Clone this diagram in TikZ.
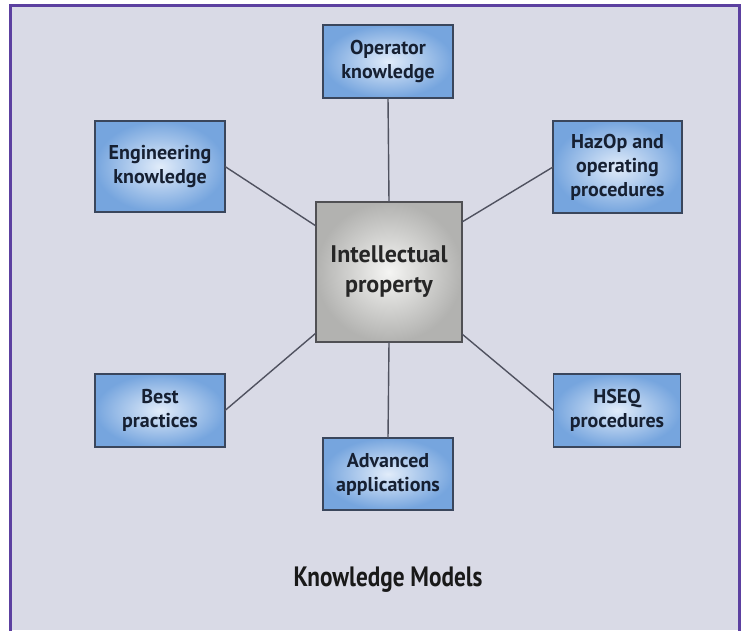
\documentclass[tikz,border=0pt]{standalone}
\usepackage{fontspec}
\setmainfont{PT Sans}
\usetikzlibrary{calc}
\definecolor{bgcol}{RGB}{217,218,230}
\definecolor{framecol}{RGB}{92,64,160}
\definecolor{boxouter}{RGB}{118,165,222}
\definecolor{boxinner}{RGB}{225,236,250}
\definecolor{boxline}{RGB}{58,70,92}
\definecolor{ipouter}{RGB}{178,178,176}
\definecolor{ipinner}{RGB}{245,245,243}
\definecolor{ipline}{RGB}{80,80,84}
\definecolor{txtcol}{RGB}{22,32,50}
\definecolor{linkcol}{RGB}{80,82,96}
\tikzset{
  kbox/.style={draw=boxline, line width=1.8pt, shading=radial, inner color=boxinner, outer color=boxouter,
    align=center, text=txtcol, font=\fontsize{20}{24}\selectfont\bfseries, inner sep=0pt, outer sep=0pt},
  ipbox/.style={draw=ipline, line width=1.8pt, shading=radial, inner color=ipinner, outer color=ipouter,
    align=center, text=black!85, font=\fontsize{24}{30}\selectfont\bfseries, inner sep=0pt, outer sep=0pt,
    minimum width=146pt, minimum height=140pt},
  link/.style={draw=linkcol, line width=1.4pt}
}
\begin{document}
\begin{tikzpicture}[x=1pt,y=-1pt]
\useasboundingbox (0,0) rectangle (751,630);
\fill[white] (0,0) rectangle (751,630);
\fill[bgcol] (10,5) rectangle (739,630);
\draw[framecol, line width=3pt] (10,631) -- (10,5) -- (739,5) -- (739,631);

\node[ipbox] (ip) at (389,272) {Intellectual\\property};
\node[kbox, minimum width=130pt, minimum height=73pt] (op) at (388,61.5) {Operator\\knowledge};
\node[kbox, minimum width=130pt, minimum height=91pt] (eng) at (160,166.5) {Engineering\\knowledge};
\node[kbox, minimum width=129pt, minimum height=92pt] (haz) at (617.5,167) {HazOp and\\operating\\procedures};
\node[kbox, minimum width=130pt, minimum height=73pt] (best) at (160,410.5) {Best\\practices};
\node[kbox, minimum width=127pt, minimum height=73pt] (hseq) at (617,410.5) {HSEQ\\procedures};
\node[kbox, minimum width=130pt, minimum height=72pt] (adv) at (388,474) {Advanced\\applications};

\draw[link] (op.south) -- (ip.north);
\draw[link] (adv.north) -- (ip.south);
\draw[link] (eng.east) -- ([yshift=46pt]ip.west);
\draw[link] (haz.west) -- ([yshift=50pt]ip.east);
\draw[link] (best.east) -- ([yshift=-61pt]ip.west);
\draw[link] (hseq.west) -- ([yshift=-62pt]ip.east);

\node[font=\fontsize{28}{32}\selectfont\bfseries, text=black!90] (title) at (388,580) {\scalebox{0.83}[1]{Knowledge Models}};
\end{tikzpicture}
\end{document}
